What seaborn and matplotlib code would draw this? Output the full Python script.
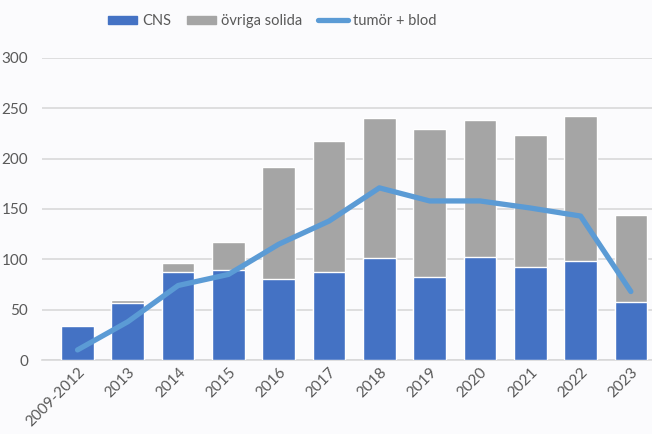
import pandas as pd
import matplotlib.pyplot as plt
import seaborn as sns
from matplotlib.patches import Patch
from matplotlib.lines import Line2D

# Data
years = ['2009-2012', '2013', '2014', '2015', '2016', '2017',
         '2018', '2019', '2020', '2021', '2022', '2023']
cns = [34, 57, 87, 89, 80, 87, 101, 82, 102, 92, 98, 58]
ovriga = [0, 3, 9, 28, 112, 131, 139, 147, 136, 132, 144, 86]
tumor_blod = [10, 38, 74, 85, 115, 138, 171, 158, 158, 151, 143, 68]

blue = '#4472C4'
gray = '#A5A5A5'
line_blue = '#5B9BD5'
text_col = '#595959'
grid_col = '#D9D9D9'
bg = '#FBFBFD'


def main():
    df = pd.DataFrame({'year': years, 'cns': cns, 'ovriga': ovriga,
                       'tumor': tumor_blod})
    df['total'] = df['cns'] + df['ovriga']

    sns.set_style('white')
    plt.rcParams['font.family'] = ['Lato', 'DejaVu Sans']

    fig = plt.figure(figsize=(6.52, 4.34), dpi=100, facecolor=bg)
    ax = fig.add_axes([42 / 652, 74 / 434, 610 / 652, 302 / 434])
    ax.set_facecolor(bg)

    # stacked bars: total in gray behind, CNS in blue on top
    sns.barplot(data=df, x='year', y='total', color=gray, width=0.65,
                saturation=1, ax=ax, zorder=2)
    sns.barplot(data=df, x='year', y='cns', color=blue, width=0.65,
                saturation=1, ax=ax, zorder=3)
    sns.lineplot(data=df, x='year', y='tumor', color=line_blue, lw=3.8,
                 ax=ax, zorder=4, solid_capstyle='round',
                 solid_joinstyle='round')

    ax.set_ylim(0, 300)
    ax.set_xlim(-0.706, 11.42)
    ax.set_yticks(range(0, 301, 50))
    ax.yaxis.grid(True, color=grid_col, lw=1.2, zorder=0)
    ax.set_axisbelow(True)
    ax.set_xlabel('')
    ax.set_ylabel('')

    for side in ['top', 'right', 'left']:
        ax.spines[side].set_visible(False)
    ax.spines['bottom'].set_color(grid_col)
    ax.spines['bottom'].set_linewidth(1.2)

    ax.tick_params(axis='both', length=0, labelsize=11, colors=text_col)
    ax.tick_params(axis='y', pad=10)
    plt.setp(ax.get_xticklabels(), rotation=45, ha='right',
             rotation_mode='anchor')

    handles = [Patch(color=blue, label='CNS'),
               Patch(color=gray, label='övriga solida'),
               Line2D([0], [0], color=line_blue, lw=3.8,
                      solid_capstyle='round', label='tumör + blod')]
    fig.legend(handles=handles, loc='center', ncol=3, frameon=False,
               bbox_to_anchor=(0.417, 0.952), fontsize=10.5,
               labelcolor=text_col, handlelength=2.0, handleheight=0.45,
               columnspacing=1.1, handletextpad=0.35)

    plt.savefig('out.png', dpi=100, facecolor=bg)


if __name__ == "__main__":
    main()
